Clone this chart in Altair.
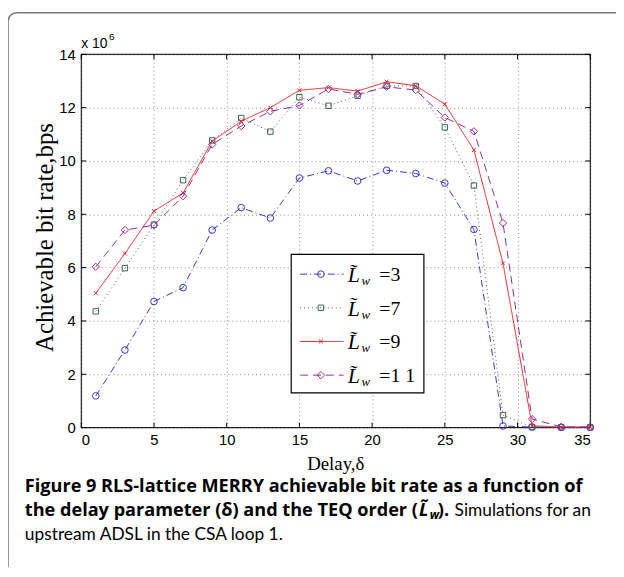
import altair as alt
import pandas as pd

# ---------------- data (values in units of 1e6 bps) ----------------
delay = [1, 3, 5, 7, 9, 11, 13, 15, 17, 19, 21, 23, 25, 27, 29, 31, 33, 35]
L3 = [1.19, 2.91, 4.73, 5.25, 7.41, 8.25, 7.86, 9.36, 9.63, 9.25, 9.65, 9.53, 9.17, 7.43, 0.06, 0.02, 0.01, 0.01]
L7 = [4.36, 5.98, 7.61, 9.28, 10.77, 11.61, 11.10, 12.39, 12.07, 12.45, 12.82, 12.81, 11.26, 9.08, 0.47, 0.02, 0.01, 0.01]
L9 = [5.04, 6.53, 8.12, 8.80, 10.74, 11.49, 12.00, 12.65, 12.75, 12.62, 12.97, 12.82, 12.13, 10.41, 6.16, 0.07, 0.02, 0.02]
L11 = [6.03, 7.41, 7.59, 8.68, 10.62, 11.31, 11.86, 12.08, 12.70, 12.50, 12.78, 12.66, 11.63, 11.11, 7.67, 0.32, 0.03, 0.02]

series_values = [L3, L7, L9, L11]
legend_values = ["=3", "=7", "=9", "=1  1"]
x_ticks = [0, 5, 10, 15, 20, 25, 30, 35]
y_ticks = [0, 2, 4, 6, 8, 10, 12, 14]

x_title = "Delay,\u03b4"
y_title = "Achievable bit rate,bps"
caption1 = "Figure 9 RLS-lattice MERRY achievable bit rate as a function of"
caption2a = "the delay parameter (\u03b4) and the TEQ order ("
caption2_L = "L\u0303"
caption2_w = "w"
caption2b = ")."
caption2c = "Simulations for an"
caption3 = "upstream ADSL in the CSA loop 1."

# ---------------- styles ----------------
colors = ["#3636cc", "#3d6356", "#e32222", "#8e2c9e"]
dashes = [[7, 3, 1, 3], [1, 3], [1, 0], [8, 5]]
shapes = ["circle", "square", "M-1,-1L1,1M-1,1L1,-1", "diamond"]
sizes = [45, 30, 16, 55]

W, H = 514, 377
xs = alt.Scale(domain=[0, 35], nice=False)
ys = alt.Scale(domain=[0, 14], nice=False)

layers = []

# outer rounded frame
frame_df = pd.DataFrame({"a": [0]})
layers.append(
    alt.Chart(frame_df).mark_rect(fill=None, stroke="#777777", strokeWidth=1.5, cornerRadius=9).encode(
        x=alt.value(-74), x2=alt.value(700), y=alt.value(-42), y2=alt.value(700)
    )
)

# axes / grid base
base_df = pd.DataFrame({"x": [0, 35], "y": [0, 14]})
layers.append(
    alt.Chart(base_df).mark_point(opacity=0).encode(
        x=alt.X("x:Q", scale=xs, axis=alt.Axis(values=x_ticks, title=None, grid=True, ticks=False, domain=False,
                                               labelFont="Liberation Sans", labelFontSize=15, labelColor="black",
                                               labelPadding=5, gridDash=[1, 3], gridColor="#888888", format="d")),
        y=alt.Y("y:Q", scale=ys, axis=alt.Axis(values=y_ticks, title=None, grid=True, ticks=False, domain=False,
                                               labelFont="Liberation Sans", labelFontSize=15, labelColor="black",
                                               labelPadding=6, gridDash=[1, 3], gridColor="#888888", format="d")),
    )
)

# inward ticks on all sides
xt = pd.DataFrame({"x": x_ticks})
yt = pd.DataFrame({"y": y_ticks})
layers.append(alt.Chart(xt).mark_rule(color="black", strokeWidth=1).encode(
    x=alt.X("x:Q", scale=xs), y=alt.value(H), y2=alt.value(H - 5)))
layers.append(alt.Chart(xt).mark_rule(color="black", strokeWidth=1).encode(
    x=alt.X("x:Q", scale=xs), y=alt.value(0), y2=alt.value(5)))
layers.append(alt.Chart(yt).mark_rule(color="black", strokeWidth=1).encode(
    y=alt.Y("y:Q", scale=ys), x=alt.value(0), x2=alt.value(5)))
layers.append(alt.Chart(yt).mark_rule(color="black", strokeWidth=1).encode(
    y=alt.Y("y:Q", scale=ys), x=alt.value(W), x2=alt.value(W - 5)))

# plot frame
layers.append(alt.Chart(frame_df).mark_rect(fill=None, stroke="black", strokeWidth=1).encode(
    x=alt.value(0), x2=alt.value(W), y=alt.value(0), y2=alt.value(H)))

# data series
for vals, c, d, s, sz in zip(series_values, colors, dashes, shapes, sizes):
    df = pd.DataFrame({"delay": delay, "rate": vals})
    layers.append(alt.Chart(df).mark_line(color=c, strokeDash=d, strokeWidth=1).encode(
        x=alt.X("delay:Q", scale=xs), y=alt.Y("rate:Q", scale=ys)))
    layers.append(alt.Chart(df).mark_point(color=c, shape=s, size=sz, filled=False, strokeWidth=1, opacity=1).encode(
        x=alt.X("delay:Q", scale=xs), y=alt.Y("rate:Q", scale=ys)))

# legend
LX0, LY0 = 212, 202
layers.append(alt.Chart(frame_df).mark_rect(fill="white", stroke="black", strokeWidth=1.2).encode(
    x=alt.value(LX0), x2=alt.value(LX0 + 134), y=alt.value(LY0), y2=alt.value(LY0 + 140)))
for i, (lab, c, d, s, sz) in enumerate(zip(legend_values, colors, dashes, shapes, sizes)):
    ry = LY0 + 20 + 34 * i
    one = pd.DataFrame({"t": [lab]})
    layers.append(alt.Chart(one).mark_rule(color=c, strokeDash=d, strokeWidth=1).encode(
        x=alt.value(LX0 + 9), x2=alt.value(LX0 + 53), y=alt.value(ry)))
    layers.append(alt.Chart(one).mark_point(color=c, shape=s, size=sz, filled=False, strokeWidth=1, opacity=1).encode(
        x=alt.value(LX0 + 30), y=alt.value(ry)))
    layers.append(alt.Chart(pd.DataFrame({"t": [caption2_L]})).mark_text(
        font="Liberation Serif", fontStyle="italic", fontSize=22, align="left", baseline="alphabetic", color="black").encode(
        x=alt.value(LX0 + 57), y=alt.value(ry + 8), text="t:N"))
    layers.append(alt.Chart(pd.DataFrame({"t": ["w"]})).mark_text(
        font="Liberation Serif", fontStyle="italic", fontSize=13, align="left", baseline="alphabetic", color="black").encode(
        x=alt.value(LX0 + 71), y=alt.value(ry + 11), text="t:N"))
    layers.append(alt.Chart(one).mark_text(
        font="Liberation Serif", fontSize=20, align="left", baseline="alphabetic", color="black").encode(
        x=alt.value(LX0 + 89), y=alt.value(ry + 7), text="t:N"))

# exponent label
layers.append(alt.Chart(pd.DataFrame({"t": ["x 10"]})).mark_text(
    font="Liberation Sans", fontSize=14, align="left", baseline="alphabetic", color="black").encode(
    x=alt.value(0), y=alt.value(-6), text="t:N"))
layers.append(alt.Chart(pd.DataFrame({"t": ["6"]})).mark_text(
    font="Liberation Sans", fontSize=10, align="left", baseline="alphabetic", color="black").encode(
    x=alt.value(28), y=alt.value(-14), text="t:N"))

# axis titles
layers.append(alt.Chart(pd.DataFrame({"t": [x_title]})).mark_text(
    font="Liberation Serif", fontSize=19, align="center", baseline="middle", color="black").encode(
    x=alt.value(W / 2), y=alt.value(414), text="t:N"))
layers.append(alt.Chart(pd.DataFrame({"t": [y_title]})).mark_text(
    font="Liberation Serif", fontSize=25, align="center", baseline="middle", color="black", angle=270).encode(
    x=alt.value(-37), y=alt.value(185), text="t:N"))

# caption
CX = -57
def cap(text, x, y, font="Open Sans", weight="bold", style="normal", size=18.3, align="left"):
    return alt.Chart(pd.DataFrame({"t": [text]})).mark_text(
        font=font, fontSize=size, fontWeight=weight, fontStyle=style, align=align,
        baseline="alphabetic", color="black").encode(x=alt.value(x), y=alt.value(y), text="t:N")

layers.append(cap(caption1, CX, 442))
layers.append(cap(caption2a, CX, 466))
layers.append(cap(caption2_L, 341, 466, style="italic"))
layers.append(cap(caption2_w, 352, 469, style="italic", size=12))
layers.append(cap(caption2b, 360, 466))
layers.append(cap(caption2c, 377, 466, font="Lato", weight="normal", size=17.5))
layers.append(cap(caption3, CX, 490, font="Lato", weight="normal", size=17.5))

chart = alt.layer(*layers).properties(
    width=W, height=H,
    padding={"left": 74, "top": 44, "right": 26, "bottom": 138},
    autosize=alt.AutoSizeParams(type="none"),
).configure_view(stroke=None).configure(background="white")

chart.save("out.html", embed_options={"renderer": "svg", "actions": False})
